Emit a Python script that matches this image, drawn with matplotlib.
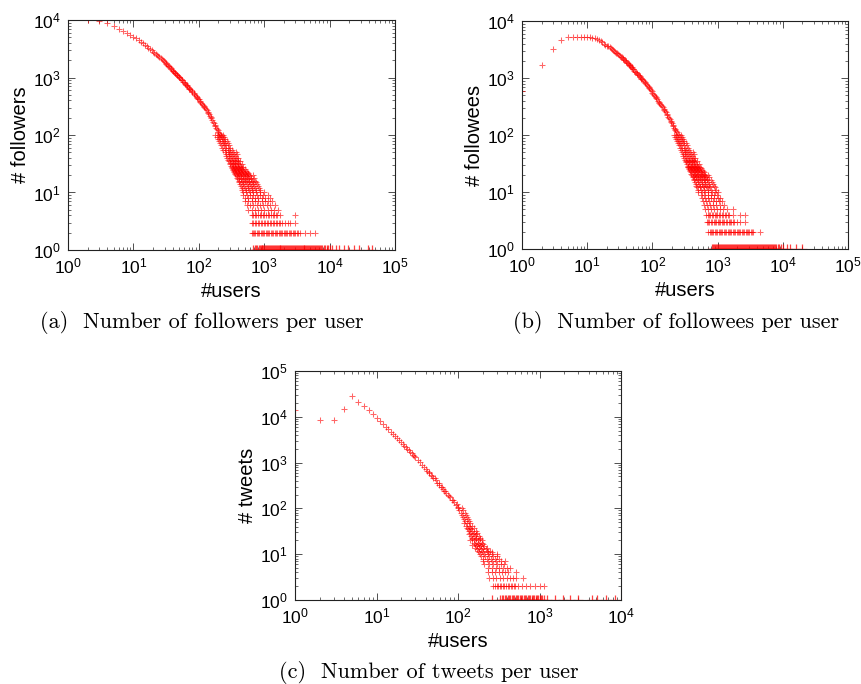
import matplotlib
matplotlib.use('Agg')
import matplotlib.pyplot as plt
from matplotlib.ticker import LogLocator, LogFormatterSciNotation, NullFormatter

plt.rcParams['font.family'] = ['Liberation Sans', 'DejaVu Sans']
plt.rcParams['mathtext.fontset'] = 'custom'
plt.rcParams['mathtext.rm'] = 'Liberation Sans'
plt.rcParams['mathtext.it'] = 'Liberation Sans:italic'
plt.rcParams['mathtext.bf'] = 'Liberation Sans:bold'

# ---------------- (a) followers per user ----------------
a_curve_x = [1, 2, 3, 4, 5, 6, 7, 8, 9, 10, 11, 12, 13, 14, 15, 16, 17, 18, 19, 20,
             21, 22, 23, 24, 25, 26, 27, 28, 29, 30, 32, 34, 36, 38, 40, 42, 44, 46, 48, 50,
             53, 56, 59, 62, 65, 68, 72, 76, 80, 85, 90, 95, 100, 106, 112, 118, 125, 132,
             140, 148, 156, 165, 175, 185, 195, 205]
a_curve_y = [10000, 10000, 9700, 8700, 7900, 7100, 6500, 5950, 5500, 5100, 4780, 4480, 4200,
             3950, 3700, 3500, 3320, 3150, 2980, 2830, 2700, 2580, 2460, 2350, 2250, 2160,
             2070, 1990, 1920, 1850, 1720, 1610, 1500, 1400, 1320, 1250, 1180, 1120, 1060,
             1010, 950, 890, 830, 780, 735, 690, 640, 600, 560, 515, 480, 445, 415, 380, 350,
             320, 295, 270, 240, 215, 195, 170, 150, 135, 120, 108]
a_extra_x = [31, 33, 35, 37, 39, 41, 43, 45, 47, 49, 51, 55, 58, 61, 64, 67, 70, 74, 78, 83,
             88, 93, 98, 103, 109, 115, 122, 128, 136, 144, 152, 160, 170, 180, 190, 200, 210,
             220]
a_extra_y = [1780, 1660, 1560, 1450, 1370, 1290, 1210, 1150, 1090, 1040, 990, 910, 850, 800,
             750, 705, 665, 620, 580, 535, 495, 460, 430, 395, 365, 335, 305, 285, 255, 228,
             205, 182, 160, 142, 128, 115, 104, 96]
a_levels = [100, 92, 85, 78, 72, 66, 60, 55, 50, 46, 43, 40, 37, 35, 33, 31, 29, 28, 27, 26,
            25, 24, 23, 22, 21, 20, 19, 18, 17, 16, 15, 14, 13, 12, 11, 10, 9, 8, 7, 6, 5, 4,
            3, 2]
a_band_x = [
    [180, 198, 215, 232], [188, 206, 224, 242], [195, 214, 234, 255], [203, 223, 245, 266],
    [210, 232, 255, 278], [218, 240, 265, 290], [228, 252, 278, 305], [238, 262, 290, 318],
    [250, 275, 302, 332, 370], [258, 285, 314, 345, 380], [265, 293, 323, 356],
    [272, 302, 334, 368, 400], [282, 312, 345, 382], [288, 320, 354, 392, 425],
    [296, 328, 363, 402], [305, 338, 374, 414, 450], [312, 346, 384, 426],
    [318, 352, 392, 436, 470], [325, 360, 400, 445], [330, 368, 408, 455, 500],
    [336, 375, 418, 465], [342, 383, 428, 476, 520], [350, 392, 438, 488, 545],
    [356, 400, 448, 500, 560], [364, 408, 458, 512, 575], [372, 418, 468, 525, 590, 670],
    [380, 428, 480, 538, 605], [390, 438, 492, 552, 620, 690], [398, 448, 504, 566, 636],
    [408, 458, 516, 580, 652, 720], [418, 470, 528, 594, 668, 750],
    [428, 482, 542, 610, 686, 780], [438, 494, 556, 626, 704, 800],
    [450, 506, 570, 642, 722, 830], [462, 520, 585, 660, 742, 860],
    [475, 535, 600, 676, 760, 860, 1000], [480, 540, 605, 680, 765, 860, 970, 1150],
    [510, 570, 640, 720, 810, 910, 1020, 1230],
    [510, 575, 645, 725, 815, 915, 1030, 1160, 1330],
    [540, 605, 680, 765, 860, 965, 1085, 1220, 1470],
    [570, 640, 715, 800, 900, 1010, 1135, 1275, 1430, 1640],
    [645, 685, 720, 760, 805, 850, 900, 955, 1010, 1070, 1130, 1195, 1265, 1340, 1420,
     1500, 1590, 1740, 2950],
    [645, 680, 715, 755, 795, 835, 880, 930, 980, 1035, 1090, 1150, 1210, 1275, 1345, 1415,
     1490, 1575, 1660, 1750, 1840, 2050, 2280, 2470, 2950],
    [645, 672, 700, 733, 767, 803, 840, 880, 920, 962, 1005, 1050, 1100, 1152, 1205, 1262,
     1320, 1382, 1445, 1512, 1580, 1655, 1730, 1812, 1895, 1985, 2075, 2170, 2270, 2380,
     2490, 2605, 2720, 2850, 2980, 3120, 3260, 3530, 4200, 5000, 6000],
]
# users with exactly one follower-count level (y = 1)
a_ones_x = [682, 715, 750, 785, 820, 850, 880, 910, 940, 970, 1000, 1035, 1070, 1105, 1145,
            1185, 1225, 1265, 1310, 1355, 1400, 1450, 1500, 1550, 1605, 1660, 1715, 1775,
            1835, 1900, 1965, 2030, 2100, 2175, 2250, 2325, 2405, 2490, 2575, 2665, 2755,
            2850, 2945, 3050, 3150, 3260, 3370, 3490, 3610, 3730, 3860, 3990, 4130, 4270,
            4420, 4570, 4730, 4890, 5060, 5230, 5410, 5600, 5790, 6000, 6200, 6420, 6630,
            6860, 7100, 7350, 7600, 8100, 8600, 9000, 9500, 10000, 11000, 12500, 14000,
            16500, 19000, 24000, 28000, 38000, 44000]

# ---------------- (b) followees per user ----------------
b_curve_x = [1, 2, 3, 4, 5, 6, 7, 8, 9, 10, 11, 12, 13, 14, 15, 16, 17, 18, 19, 20,
             21, 22, 23, 24, 25, 26, 27, 28, 29, 30, 32, 34, 36, 38, 40, 42, 44, 46, 48, 50,
             53, 56, 59, 62, 65, 68, 72, 76, 80, 85, 90, 95, 100, 106, 112, 118, 125, 132,
             140, 148, 156, 165, 175, 185, 195, 205, 215, 225, 235]
b_curve_y = [590, 1690, 3180, 4660, 5200, 5300, 5300, 5300, 5300, 5300, 5200, 5100, 4950,
             4800, 4600, 4400, 4200, 4000, 3850, 3700, 3570, 3450, 3330, 3220, 3110, 3000,
             2900, 2800, 2700, 2610, 2450, 2300, 2160, 2030, 1910, 1800, 1700, 1610, 1530,
             1450, 1350, 1260, 1180, 1110, 1040, 980, 910, 850, 790, 730, 670, 620, 540, 495,
             455, 420, 385, 350, 318, 290, 262, 236, 210, 188, 168, 150, 135, 122, 112]
b_extra_x = [31, 33, 35, 37, 39, 41, 43, 45, 47, 49, 51, 55, 58, 61, 64, 67, 70, 74, 78, 83,
             88, 93, 98, 103, 109, 115, 122, 128, 136, 144, 152, 160, 170, 180, 190, 200, 210,
             220, 230, 245]
b_extra_y = [2530, 2380, 2230, 2100, 1970, 1860, 1750, 1660, 1570, 1490, 1420, 1290, 1210,
             1130, 1065, 1000, 945, 880, 820, 755, 700, 640, 595, 520, 475, 440, 400, 370, 335,
             305, 278, 250, 222, 200, 178, 160, 142, 128, 117, 104]
b_levels = a_levels
b_band_x = [
    [212, 232, 252, 275], [220, 241, 262, 286], [228, 250, 272, 298], [236, 259, 283, 310],
    [244, 268, 294, 322], [252, 278, 305, 335], [262, 289, 318, 350], [272, 300, 330, 364],
    [282, 311, 343, 378, 420], [290, 321, 355, 392, 430], [298, 330, 365, 404],
    [306, 340, 376, 416, 455], [316, 351, 389, 430], [322, 358, 398, 441, 480],
    [330, 367, 408, 452], [338, 377, 419, 465, 510], [346, 386, 430, 478],
    [352, 393, 438, 488, 535], [357, 399, 445, 496], [363, 406, 453, 505, 560],
    [370, 413, 461, 514], [376, 420, 470, 525, 580], [383, 428, 479, 536, 600],
    [390, 436, 488, 547, 612], [397, 445, 498, 558, 625], [405, 454, 508, 570, 638, 700],
    [413, 463, 519, 582, 652], [422, 473, 530, 595, 667, 740], [430, 483, 542, 608, 682],
    [440, 494, 555, 622, 698, 780], [450, 505, 568, 637, 715, 810],
    [460, 517, 581, 652, 732, 840], [471, 530, 595, 668, 750, 870],
    [483, 543, 610, 685, 770, 900], [495, 556, 625, 702, 790, 930],
    [507, 570, 640, 720, 810, 910, 1025], [560, 625, 700, 785, 880, 990],
    [570, 638, 715, 800, 895, 1000, 1080], [600, 670, 750, 840, 940, 1050, 1150],
    [620, 690, 770, 860, 960, 1070, 1250],
    [640, 710, 790, 875, 970, 1075, 1190, 1390, 1750],
    [665, 700, 735, 775, 815, 857, 900, 947, 995, 1047, 1100, 1160, 1220, 1285, 1350, 1425,
     1500, 1750, 2200, 2630],
    [680, 715, 750, 787, 825, 867, 910, 955, 1000, 1050, 1100, 1155, 1210, 1270, 1335,
     1400, 1470, 1545, 1620, 1700, 1785, 1965, 2200, 2630],
    [720, 755, 790, 827, 865, 905, 945, 990, 1035, 1085, 1135, 1187, 1240, 1300, 1360,
     1425, 1490, 1560, 1630, 1707, 1785, 1870, 1955, 2047, 2140, 2240, 2345, 2455, 2570,
     2690, 2810, 2945, 3080, 3225, 3370, 3550, 4500],
]
b_ones_x = [810, 845, 880, 915, 950, 985, 1020, 1057, 1095, 1135, 1175, 1217, 1260, 1307,
            1355, 1405, 1455, 1507, 1560, 1617, 1675, 1737, 1800, 1865, 1930, 2000, 2075,
            2150, 2225, 2305, 2390, 2475, 2565, 2660, 2755, 2855, 2955, 3065, 3175, 3290,
            3410, 3535, 3660, 3795, 3930, 4075, 4220, 4375, 4530, 4695, 4860, 5040, 5220,
            5410, 5600, 5810, 6020, 6240, 6460, 6700, 6940, 7200, 7450, 7720, 8000, 8400,
            8800, 9500, 10200, 11500, 13000, 16000, 19500]

# ---------------- (c) tweets per user ----------------
c_curve_x = [1, 2, 3, 4, 5, 6, 7, 8, 9, 10, 11, 12, 13, 14, 15, 16, 17, 18, 19, 20, 21, 22,
             23, 24, 25, 26, 27, 28, 29, 30, 32, 34, 36, 38, 40, 42, 44, 46, 48, 50, 53, 56,
             59, 62, 65, 68, 72, 76, 80, 85, 90, 95, 100]
c_curve_y = [14000, 8500, 8500, 14800, 28300, 21400, 17500, 14000, 11300, 9570, 8000, 6900,
             6000, 5300, 4700, 4200, 3800, 3400, 3100, 2800, 2550, 2350, 2150, 2000, 1850,
             1720, 1600, 1480, 1390, 1300, 1140, 1010, 900, 805, 725, 655, 595, 545, 500, 460,
             408, 365, 328, 296, 268, 244, 217, 194, 174, 153, 136, 121, 109]
c_extra_x = [44, 52, 58, 63, 70, 78, 88, 97]
c_extra_y = [630, 470, 360, 300, 240, 190, 150, 125]
c_levels = [100, 90, 80, 72, 65, 58, 52, 47, 42, 38, 35, 32, 29, 27, 25, 23, 21, 20, 18, 17,
            16, 15, 14, 13, 12, 11, 10, 9, 8, 7, 6, 5, 4, 3, 2]
c_band_x = [
    [100, 112], [104, 116], [108, 121], [111, 125], [115, 129], [118, 133], [122, 138],
    [117, 128, 142], [124, 135, 150], [128, 142, 158], [131, 146], [135, 150, 166],
    [140, 156, 172], [138, 152, 168], [145, 162, 180], [150, 168, 188], [148, 165, 185],
    [140, 158, 176, 196], [155, 174, 195], [160, 180, 204], [150, 170, 192],
    [165, 186, 210], [160, 182, 205, 230], [170, 193, 218], [175, 198, 226, 250],
    [180, 205, 232, 262], [186, 208, 232, 260, 297], [192, 215, 242, 270, 300],
    [200, 225, 252, 282, 320], [205, 232, 262, 295, 335, 380],
    [210, 238, 268, 300, 340, 370], [235, 262, 290, 320, 355, 395, 440],
    [235, 260, 285, 315, 345, 380, 415, 515],
    [242, 268, 295, 325, 360, 395, 435, 475, 520, 620],
    [272, 285, 298, 312, 325, 340, 355, 371, 388, 405, 424, 443, 463, 484, 505, 550, 605,
     680, 760, 870, 1000, 1120],
]
c_ones_x = [260, 330, 345, 360, 375, 390, 405, 420, 437, 455, 472, 490, 510, 530, 550, 570,
            592, 615, 640, 665, 690, 715, 742, 770, 800, 830, 862, 895, 930, 965, 1000, 1040,
            1080, 1120, 1230, 1550, 1960, 2350, 3000, 4380, 5030, 6630, 8470]

FIG_W, FIG_H = 861, 684
fig = plt.figure(figsize=(FIG_W / 100, FIG_H / 100), dpi=100)


def make_axes(left, top, right, bottom):
    return fig.add_axes([left / FIG_W, 1 - bottom / FIG_H,
                         (right - left) / FIG_W, (bottom - top) / FIG_H])


def panel(ax, cx, cy, ex, ey, levels, band_x, ones_x, xmax, ymax, ylabel):
    xs = list(cx) + list(ex)
    ys = list(cy) + list(ey)
    for lv, row in zip(levels, band_x):
        xs += row
        ys += [lv] * len(row)
    ax.plot(xs, ys, linestyle='none', marker='+', color='#ff0000', ms=4.3, mew=0.75,
            alpha=0.6)
    ax.plot(ones_x, [1] * len(ones_x), linestyle='none', marker='+', color='#ff0000',
            ms=7, mew=0.9, alpha=0.75)
    ax.set_xscale('log')
    ax.set_yscale('log')
    ax.set_xlim(1, xmax)
    ax.set_ylim(1, ymax)
    for axis in (ax.xaxis, ax.yaxis):
        axis.set_major_locator(LogLocator(base=10, numticks=20))
        axis.set_minor_locator(LogLocator(base=10, subs=range(2, 10), numticks=100))
        axis.set_major_formatter(LogFormatterSciNotation())
        axis.set_minor_formatter(NullFormatter())
    ax.tick_params(which='both', direction='in', top=True, right=True, labelsize=12.5,
                   pad=5, color='#333333')
    ax.tick_params(which='major', length=5, width=0.6)
    ax.tick_params(which='minor', length=2.5, width=0.5)
    for s in ax.spines.values():
        s.set_linewidth(0.8)
        s.set_color('#222222')
    ax.set_xlabel('#users', fontsize=14.5, labelpad=4)
    ax.set_ylabel(ylabel, fontsize=14.5, labelpad=2)


ax_a = make_axes(68, 20, 395, 250)
panel(ax_a, a_curve_x, a_curve_y, a_extra_x, a_extra_y, a_levels, a_band_x, a_ones_x,
      1e5, 1e4, '# followers')
ax_b = make_axes(522, 21, 848, 249)
panel(ax_b, b_curve_x, b_curve_y, b_extra_x, b_extra_y, b_levels, b_band_x, b_ones_x,
      1e5, 1e4, '# followees')
ax_c = make_axes(295, 371, 621, 600)
panel(ax_c, c_curve_x, c_curve_y, c_extra_x, c_extra_y, c_levels, c_band_x, c_ones_x,
      1e4, 1e5, '# tweets')

cap_font = dict(family='cmr10', fontsize=16, ha='center', va='center')
fig.text(202 / FIG_W, 1 - 322 / FIG_H, '(a)  Number of followers per user', **cap_font)
fig.text(676 / FIG_W, 1 - 322 / FIG_H, '(b)  Number of followees per user', **cap_font)
fig.text(429 / FIG_W, 1 - 673 / FIG_H, '(c)  Number of tweets per user', **cap_font)

fig.savefig('out.png', dpi=100)
